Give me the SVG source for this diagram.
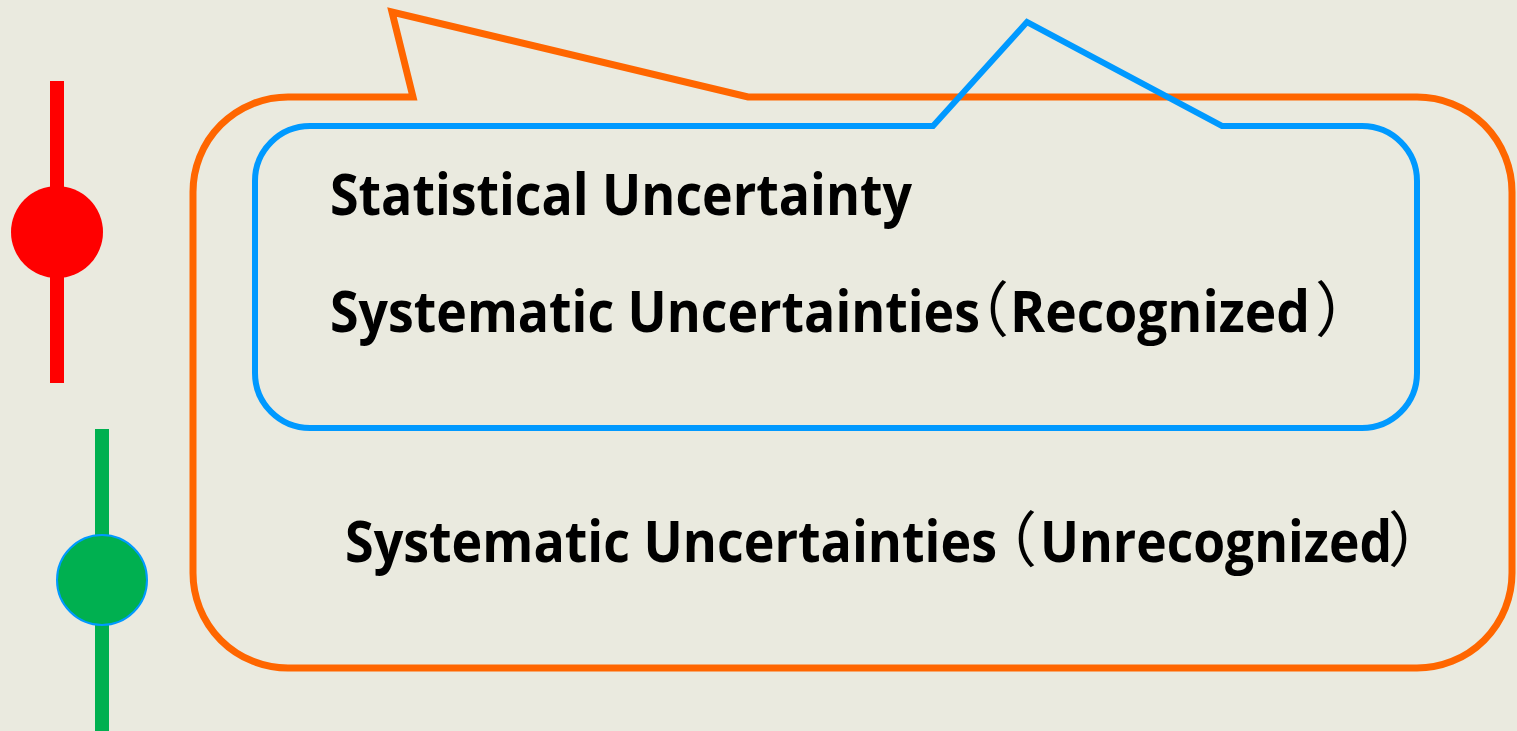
<svg xmlns="http://www.w3.org/2000/svg" width="1517" height="731" viewBox="0 0 1517 731">
  <style>
    .bg { fill: #EAEADF; }
    .outer { fill: none; stroke: #FF6600; stroke-width: 7; stroke-linejoin: miter; }
    .inner { fill: none; stroke: #0099FF; stroke-width: 6; stroke-linejoin: miter; }
    .label { font-family: "Open Sans", "Noto Sans CJK JP", sans-serif; font-weight: 700; font-size: 58px; fill: #000000; }
    .paren { font-family: "Noto Sans CJK JP", sans-serif; font-weight: 400; font-size: 60px; fill: #000000; }
  </style>
  <rect class="bg" x="0" y="0" width="1517" height="731"/>

  <!-- error-bar markers -->
  <g id="marker-red">
    <rect x="50" y="81" width="14" height="302" fill="#FF0000"/>
    <circle cx="57" cy="232" r="46" fill="#FF0000"/>
  </g>
  <g id="marker-green">
    <rect x="95" y="429" width="14" height="302" fill="#00B050"/>
    <circle cx="102" cy="580" r="45" fill="#00B050" stroke="#0099FF" stroke-width="2"/>
  </g>

  <!-- outer speech bubble -->
  <g id="bubble-unrecognized">
    <path class="outer" d="M 288 97 L 413 97 L 392 12 L 748 97 L 1417 97 A 95 95 0 0 1 1512 192 L 1512 573 A 95 95 0 0 1 1417 668 L 288 668 A 95 95 0 0 1 193 573 L 193 192 A 95 95 0 0 1 288 97 Z"/>
    <text class="label" y="562"><tspan x="345" textLength="652" lengthAdjust="spacingAndGlyphs">Systematic Uncertainties</tspan><tspan class="paren" x="977">（</tspan><tspan x="1040" textLength="352" lengthAdjust="spacingAndGlyphs">Unrecognized</tspan><tspan class="paren" x="1388">）</tspan></text>
  </g>

  <!-- inner speech bubble -->
  <g id="bubble-recognized">
    <path class="inner" d="M 310 126 L 933 126 L 1027 22 L 1222 126 L 1362 126 A 55 55 0 0 1 1417 181 L 1417 373 A 55 55 0 0 1 1362 428 L 310 428 A 55 55 0 0 1 255 373 L 255 181 A 55 55 0 0 1 310 126 Z"/>
    <text class="label" x="330" y="215" textLength="582" lengthAdjust="spacingAndGlyphs">Statistical Uncertainty</text>
    <text class="label" y="332"><tspan x="330" textLength="650" lengthAdjust="spacingAndGlyphs">Systematic Uncertainties</tspan><tspan class="paren" x="949">（</tspan><tspan x="1010" textLength="300" lengthAdjust="spacingAndGlyphs">Recognized</tspan><tspan class="paren" x="1315">）</tspan></text>
  </g>

  <g id="connectors"/>
</svg>
